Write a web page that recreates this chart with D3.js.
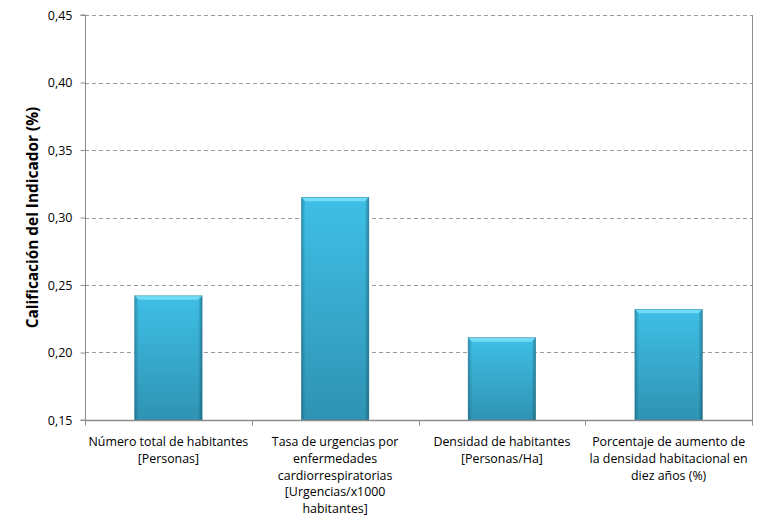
<!DOCTYPE html>
<html>
<head>
<meta charset="utf-8">
<script src="https://cdn.jsdelivr.net/npm/d3@7"></script>
<style>
  html, body { margin: 0; padding: 0; background: #fff; }
  svg { display: block; }
  text { font-family: "Open Sans", "Liberation Sans", sans-serif; fill: #000; }
</style>
</head>
<body>
<svg id="chart" width="757" height="520"></svg>
<script>
const categories = [
  ["Número total de habitantes", "[Personas]"],
  ["Tasa de urgencias por", "enfermedades", "cardiorrespiratorias", "[Urgencias/x1000", "habitantes]"],
  ["Densidad de habitantes", "[Personas/Ha]"],
  ["Porcentaje de aumento de", "la densidad habitacional en", "diez años (%)"]
];
const values = [0.242, 0.315, 0.211, 0.232];
const yTicks = [0.15, 0.20, 0.25, 0.30, 0.35, 0.40, 0.45];
const yTitle = "Calificación del Indicador (%)";

const svg = d3.select("#chart");
const margin = { left: 85, right: 5, top: 15, bottom: 100 };
const W = 757, H = 520;
const x0 = margin.left, x1 = W - margin.right, yTop = margin.top, yBot = H - margin.bottom;

const x = d3.scaleBand().domain(d3.range(categories.length)).range([x0, x1]).padding(0);
const y = d3.scaleLinear().domain([0.15, 0.45]).range([yBot, yTop]);

const defs = svg.append("defs");
const gv = defs.append("linearGradient").attr("id", "gv").attr("x1", 0).attr("y1", 0).attr("x2", 0).attr("y2", 1);
gv.append("stop").attr("offset", "0%").attr("stop-color", "#3fbfe6");
gv.append("stop").attr("offset", "100%").attr("stop-color", "#2f93b3");
const gh = defs.append("linearGradient").attr("id", "gh").attr("x1", 0).attr("y1", 0).attr("x2", 1).attr("y2", 0);
gh.append("stop").attr("offset", "0%").attr("stop-color", "#0a3a4a").attr("stop-opacity", 0.35);
gh.append("stop").attr("offset", "6%").attr("stop-color", "#0a3a4a").attr("stop-opacity", 0);
gh.append("stop").attr("offset", "94%").attr("stop-color", "#0a3a4a").attr("stop-opacity", 0);
gh.append("stop").attr("offset", "100%").attr("stop-color", "#0a3a4a").attr("stop-opacity", 0.45);

// gridlines
svg.append("g").selectAll("line").data(yTicks.slice(1)).join("line")
  .attr("x1", x0).attr("x2", x1)
  .attr("y1", d => Math.round(y(d)) + 0.5).attr("y2", d => Math.round(y(d)) + 0.5)
  .attr("stroke", "#9a9a9a").attr("stroke-width", 1).attr("stroke-dasharray", "4,3");

// right border
svg.append("line").attr("x1", x1 + 0.5).attr("x2", x1 + 0.5).attr("y1", yTop).attr("y2", yBot)
  .attr("stroke", "#8c8c8c");

// bars
const bw = x.bandwidth() * 0.405;
const bars = svg.append("g").selectAll("g").data(values).join("g")
  .attr("transform", (d, i) => `translate(${x(i) + (x.bandwidth() - bw) / 2},${y(d)})`);
bars.append("rect").attr("width", bw).attr("height", d => yBot - y(d)).attr("fill", "url(#gv)");
bars.append("rect").attr("width", bw).attr("height", d => yBot - y(d)).attr("fill", "url(#gh)");
bars.append("path").attr("d", `M0,0 H${bw} L${bw - 4},4 H4 Z`).attr("fill", "#72dbf7");
bars.append("rect").attr("width", bw).attr("height", d => yBot - y(d)).attr("fill", "none")
  .attr("stroke", "#1f6f88").attr("stroke-width", 0.6).attr("stroke-opacity", 0.6);

// y axis
const yAxis = d3.axisLeft(y).tickValues(yTicks).tickSize(5).tickPadding(8)
  .tickFormat(d => d3.format(".2f")(d).replace(".", ","));
const ya = svg.append("g").attr("transform", `translate(${x0 + 0.5},0)`).call(yAxis);
ya.select(".domain").attr("stroke", "#8c8c8c").attr("d", `M-5,${yTop}H0V${yBot}H-5`);
ya.selectAll(".tick line").attr("stroke", "#8c8c8c");
ya.selectAll(".tick text").attr("font-size", 12.5).attr("fill", "#000")
  .attr("font-family", '"Open Sans", "Liberation Sans", sans-serif');

// x axis
const xa = svg.append("g").attr("transform", `translate(0,${yBot + 0.5})`);
xa.append("line").attr("x1", x0).attr("x2", x1 + 1).attr("y1", 0).attr("y2", 0).attr("stroke", "#8c8c8c").attr("stroke-width", 1.3);
const bounds = d3.range(categories.length + 1).map(i => i < categories.length ? x(i) : x1);
xa.selectAll("line.t").data(bounds).join("line").attr("class", "t")
  .attr("x1", d => Math.round(d) + 0.5).attr("x2", d => Math.round(d) + 0.5)
  .attr("y1", 0).attr("y2", 5).attr("stroke", "#8c8c8c");

const labels = svg.append("g").selectAll("text").data(categories).join("text")
  .attr("text-anchor", "middle").attr("font-size", 12.4)
  .attr("transform", (d, i) => `translate(${x(i) + x.bandwidth() / 2},${yBot + 26})`);
labels.selectAll("tspan").data(d => d).join("tspan")
  .attr("x", 0).attr("y", (d, i) => i * 16.8).text(d => d);

// y title
svg.append("text").attr("transform", `translate(38,${(yTop + yBot) / 2}) rotate(-90)`)
  .attr("text-anchor", "middle").attr("font-size", 15.4).attr("font-weight", "bold")
  .text(yTitle);
</script>
</body>
</html>
